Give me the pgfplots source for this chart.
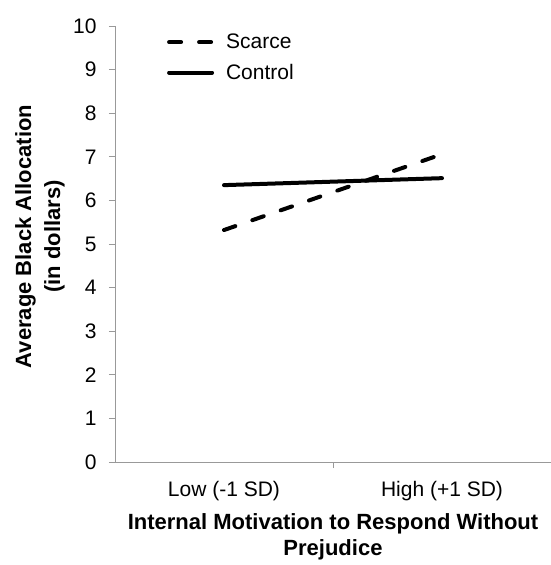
\documentclass[border=0pt]{standalone}
\usepackage{fontspec}
\setmainfont{Liberation Sans}
\usepackage{pgfplots}
\pgfplotsset{compat=1.18}
\begin{document}
\begin{tikzpicture}
\begin{axis}[
  scale only axis,
  at={(0,0)}, anchor=south west,
  width=436pt, height=436pt,
  xmin=0, xmax=2, ymin=0, ymax=10,
  axis x line=bottom, axis y line=left,
  axis line style={draw=gray!80, line width=0.8pt, -},
  x axis line style={-}, y axis line style={-},
  ytick={0,1,...,10},
  xtick={0.5,1.5},
  xticklabels={Low (-1 SD), High (+1 SD)},
  minor xtick={1},
  major x tick style={draw=none},
  tick align=outside,
  major tick length=6pt, minor tick length=6pt,
  tick style={draw=gray!80, line width=0.8pt},
  /pgf/number format/assume math mode=true,
  tick label style={font=\fontsize{21}{24}\selectfont, black},
  yticklabel style={xshift=-9pt},
  xticklabel style={yshift=-10pt},
  xlabel={\textbf{Internal Motivation to Respond Without}\\\textbf{Prejudice}},
  xlabel style={font=\fontsize{22}{26}\selectfont, align=center,
    at={(axis description cs:0.5,-0.118)}, anchor=north, inner sep=0pt},
  ylabel={\textbf{Average Black Allocation}\\\textbf{(in dollars)}},
  ylabel style={font=\fontsize{22}{29}\selectfont, align=center,
    at={(axis description cs:-0.172,0.517)}, anchor=center, rotate=0, inner sep=0pt},
  legend style={draw=none, fill=none, at={(0.119,0.982)}, anchor=north west,
    font=\fontsize{21}{24}\selectfont, row sep=14pt, inner sep=0pt,
    nodes={inner sep=0pt}},
  legend cell align=left,
  legend image code/.code={\path[draw=none,fill=none] (0pt,-8pt) rectangle (57pt,8pt); \draw[#1] (0pt,0pt) -- (43pt,0pt);},
]
\addplot[black, line width=4pt, line cap=round, dash pattern=on 12pt off 18pt] coordinates {(0.5,5.32) (1.5,7.06)};
\addlegendentry{Scarce}
\addplot[black, line width=4pt, line cap=round] coordinates {(0.5,6.35) (1.5,6.51)};
\addlegendentry{Control}
\end{axis}
\pgfresetboundingbox
\path (-115pt,-103pt) rectangle (436pt,462pt);
\end{tikzpicture}
\end{document}
